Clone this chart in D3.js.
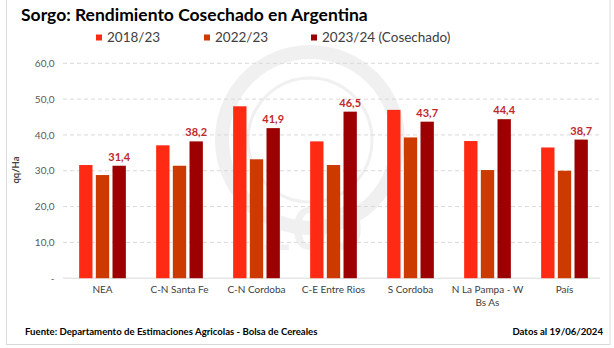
<!DOCTYPE html>
<html><head><meta charset="utf-8">
<script src="https://cdn.jsdelivr.net/npm/d3@7"></script>
<style>
html,body{margin:0;padding:0;background:#fff;}
svg{display:block;font-family:Lato,"Open Sans",sans-serif;}
</style></head>
<body><svg id="c" width="614" height="348"></svg>
<script>
const categories = ["NEA","C-N Santa Fe","C-N Cordoba","C-E Entre Rios","S Cordoba","N La Pampa - W|Bs As","País"];
const seriesNames = ["2018/23","2022/23","2023/24 (Cosechado)"];
const s2018 = [31.6,37.1,48.0,38.2,47.0,38.3,36.5];
const s2022 = [28.8,31.4,33.2,31.6,39.3,30.2,30.0];
const s2024 = [31.4,38.2,41.9,46.5,43.7,44.4,38.7];
const yTicks = [0,10,20,30,40,50,60];
const colors = ["#FF2A14","#CC3A00","#9C0000"];

const svg = d3.select("#c");
// frame
svg.append("rect").attr("x",6.5).attr("y",-2).attr("width",603.5).attr("height",346.5)
  .attr("fill","#fff").attr("stroke","#d9d9d9").attr("stroke-width",1);

// watermark
const wm = svg.append("g").attr("opacity",0.055);
wm.append("circle").attr("cx",310).attr("cy",140).attr("r",88).attr("fill","none").attr("stroke","#000").attr("stroke-width",14);
wm.append("circle").attr("cx",310).attr("cy",140).attr("r",62).attr("fill","none").attr("stroke","#000").attr("stroke-width",3);
wm.append("text").attr("x",310).attr("y",250).attr("text-anchor","middle").attr("font-size",60).attr("font-weight","bold").text("100");

const x0 = d3.scaleBand().domain(categories).range([64,603]).paddingInner(0).paddingOuter(0);
const x1 = d3.scaleBand().domain(seriesNames).range([0,46.7]).paddingInner(0.2).paddingOuter(0);
const y = d3.scaleLinear().domain([0,60]).range([278.2,63.3]);

// gridlines
svg.append("g").selectAll("line").data(yTicks.filter(d=>d>0)).join("line")
  .attr("x1",63).attr("x2",600).attr("y1",d=>y(d)).attr("y2",d=>y(d))
  .attr("stroke","#d9d9d9").attr("stroke-width",1).attr("stroke-dasharray","4,3");
// baseline
svg.append("line").attr("x1",63).attr("x2",600).attr("y1",y(0)).attr("y2",y(0)).attr("stroke","#d9d9d9").attr("stroke-width",1);

// y axis labels
const yAxis = d3.axisLeft(y).tickValues(yTicks).tickSize(0).tickPadding(0)
  .tickFormat(d=> d===0 ? "-" : d3.format(".1f")(d).replace(".",","));
const ya = svg.append("g").attr("transform","translate(54.5,0)").call(yAxis);
ya.select(".domain").remove();
ya.selectAll("text").attr("fill","#595959").attr("font-size",10).attr("font-family","Lato,sans-serif");

// y title
svg.append("text").attr("transform","translate(19,170) rotate(-90)").attr("text-anchor","middle")
  .attr("font-size",9.5).attr("fill","#404040").attr("font-weight","bold").text("qq/Ha");

// bars
const data = categories.map((c,i)=>({c, vals:[s2018[i],s2022[i],s2024[i]]}));
const off = (x0.bandwidth()-46.7)/2;
const g = svg.append("g");
data.forEach(d=>{
  d.vals.forEach((v,j)=>{
    g.append("rect").attr("x",x0(d.c)+off+x1(seriesNames[j])).attr("y",y(v))
      .attr("width",x1.bandwidth()).attr("height",y(0)-y(v)).attr("fill",colors[j]);
  });
  const v = d.vals[2];
  g.append("text").attr("x",x0(d.c)+off+x1(seriesNames[2])+x1.bandwidth()/2).attr("y",y(v)-5)
    .attr("text-anchor","middle").attr("font-size",11).attr("font-weight","bold").attr("fill","#C0282D")
    .text(d3.format(".1f")(v).replace(".",","));
});

// x labels
categories.forEach(c=>{
  const t = svg.append("text").attr("x",x0(c)+x0.bandwidth()/2).attr("y",293)
    .attr("text-anchor","middle").attr("font-size",10).attr("fill","#404040");
  c.split("|").forEach((line,k)=>{
    t.append("tspan").attr("x",x0(c)+x0.bandwidth()/2).attr("dy",k===0?0:13).text(line);
  });
});

// title
svg.append("text").attr("x",21).attr("y",21).attr("font-size",17.5).attr("font-weight","bold").attr("fill","#000")
  .text("Sorgo: Rendimiento Cosechado en Argentina");

// legend
const legX = [96,204,311];
seriesNames.forEach((s,i)=>{
  svg.append("rect").attr("x",legX[i]).attr("y",34.5).attr("width",6).attr("height",6).attr("fill",colors[i]);
  svg.append("text").attr("x",legX[i]+11).attr("y",41.5).attr("font-size",13.5).attr("fill","#404040").text(s);
});

// footer
svg.append("text").attr("x",25).attr("y",335).attr("font-size",9.6).attr("font-weight","bold").attr("fill","#000")
  .text("Fuente: Departamento de Estimaciones Agricolas - Bolsa de Cereales");
svg.append("text").attr("x",603).attr("y",335).attr("text-anchor","end").attr("font-size",9.6).attr("font-weight","bold").attr("fill","#000")
  .text("Datos al 19/06/2024");
</script></body></html>
